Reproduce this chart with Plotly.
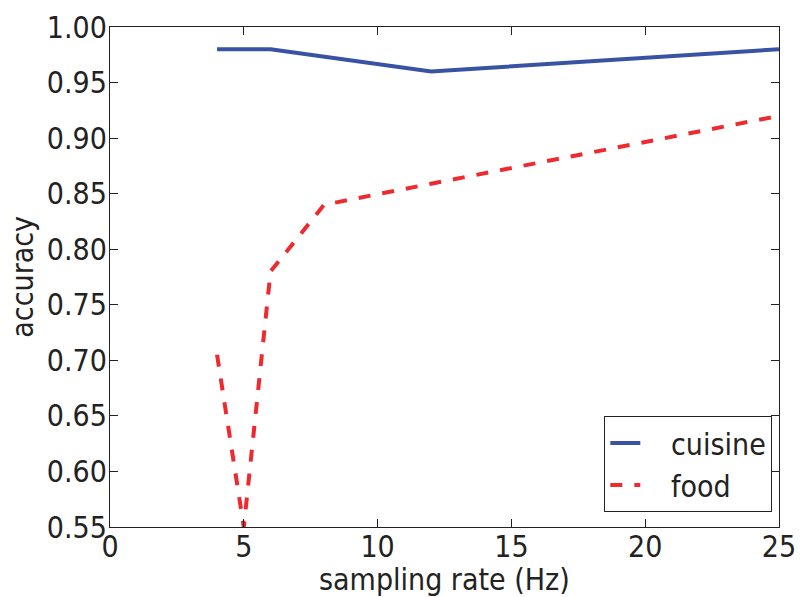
import plotly.graph_objects as go

cuisine_x = [4, 6, 12, 25]
cuisine_y = [0.98, 0.98, 0.96, 0.98]
food_x = [4, 5, 6, 8, 12, 25]
food_y = [0.705, 0.55, 0.78, 0.84, 0.859, 0.92]
series_names = ["cuisine", "food"]
x_title = "sampling rate (Hz)"
y_title = "accuracy"

pad = "\u00a0\u00a0\u00a0"
fig = go.Figure()
fig.add_trace(go.Scatter(x=cuisine_x, y=cuisine_y, mode="lines", name=pad + series_names[0],
                         line=dict(color="#3953a4", width=4)))
fig.add_trace(go.Scatter(x=food_x, y=food_y, mode="lines", name=pad + series_names[1],
                         line=dict(color="#ee2a2f", width=4, dash="dash")))

font = dict(family="DejaVu Sans Condensed, DejaVu Sans", size=30, color="#222222")
axis_common = dict(showgrid=False, zeroline=False, showline=True, linecolor="#222222",
                   linewidth=1.2, mirror="ticks", ticks="inside", ticklen=8,
                   tickcolor="#222222", tickwidth=1, tickfont=font, automargin=False)
fig.update_xaxes(range=[0, 25], tickvals=[0, 5, 10, 15, 20, 25],
                 ticklabelstandoff=-7, **axis_common)
fig.update_yaxes(range=[0.55, 1.0], tickvals=[0.55, 0.6, 0.65, 0.7, 0.75, 0.8, 0.85, 0.9, 0.95, 1.0],
                 tickformat=".2f", ticklabelstandoff=-4, **axis_common)
fig.add_annotation(text=x_title, xref="paper", yref="paper", x=0.5, y=-0.105,
                   xanchor="center", yanchor="middle", showarrow=False, font=font)
fig.add_annotation(text=y_title, xref="paper", yref="paper", x=-0.132, y=0.5,
                   xanchor="center", yanchor="middle", textangle=-90, showarrow=False, font=font)
fig.update_layout(
    width=800, height=597,
    margin=dict(l=110, r=21, t=27, b=70),
    plot_bgcolor="white", paper_bgcolor="white",
    font=font,
    legend=dict(x=0.99, y=0.03, xanchor="right", yanchor="bottom",
                bordercolor="#222222", borderwidth=1, bgcolor="white",
                font=font),
)
fig.write_html("out.html")
